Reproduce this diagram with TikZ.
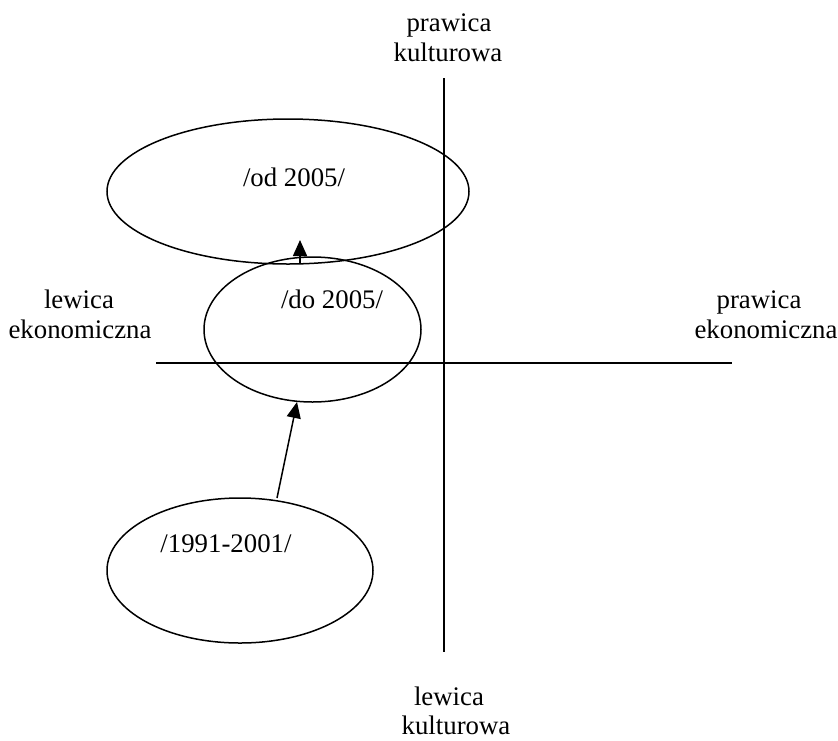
\documentclass[tikz,border=0pt]{standalone}
\usepackage{fontspec}
\setmainfont{Liberation Serif}
\usetikzlibrary{shapes.geometric,arrows.meta}
\begin{document}
\begin{tikzpicture}[x=1pt,y=-1pt,
  lbl/.style={inner sep=0pt,anchor=base,font=\fontsize{26.8}{31}\selectfont},
  oval/.style={draw,ellipse,line width=1.5pt,inner sep=0pt},
  axis/.style={line width=1.5pt},
  arr/.style={line width=1.5pt,-{Triangle[length=16pt,width=14pt]}}]
\useasboundingbox (0,0) rectangle (838,740);
% axes
\coordinate (vt) at (444,78);
\coordinate (vb) at (444,652);
\coordinate (hl) at (156,363);
\coordinate (hr) at (732,363);
\draw[axis] (vt) -- (vb);
\draw[axis] (hl) -- (hr);
% axis labels
\node[lbl] (t1) at (449,31) {prawica};
\node[lbl] (t2) at (448,61) {kulturowa};
\node[lbl] (l1) at (79,308) {lewica};
\node[lbl] (l2) at (80,338) {ekonomiczna};
\node[lbl] (r1) at (759,308) {prawica};
\node[lbl] (r2) at (766,338) {ekonomiczna};
\node[lbl] (b1) at (449,705) {lewica};
\node[lbl] (b2) at (456,734) {kulturowa};
% ellipses
\node[oval,minimum width=362pt,minimum height=145pt] (e1) at (288,191.5) {};
\node[oval,minimum width=217pt,minimum height=145pt] (e2) at (312.5,329.5) {};
\node[oval,minimum width=266pt,minimum height=145pt] (e3) at (240,570.5) {};
\node[lbl] (e1t) at (294,186) {/od 2005/};
\node[lbl] (e2t) at (332,308) {/do 2005/};
\node[lbl] (e3t) at (226,552) {/1991-2001/};
% arrows
\coordinate (a1s) at (300,264);
\coordinate (a1e) at (300,240);
\coordinate (a2s) at (277,498);
\coordinate (a2e) at (297,402);
\draw[arr] (a1s) -- (a1e);
\draw[arr] (a2s) -- (a2e);
\end{tikzpicture}
\end{document}
